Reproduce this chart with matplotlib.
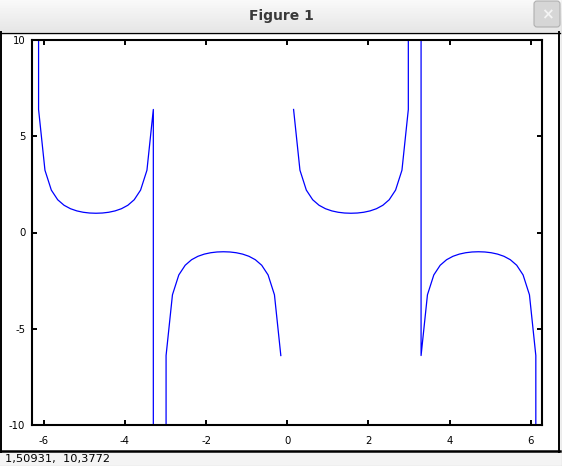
import numpy as np
import matplotlib
matplotlib.use('Agg')
from matplotlib import pyplot as plt, rcParams
from matplotlib.patches import Rectangle, FancyBboxPatch

rcParams['font.family'] = 'DejaVu Sans'

# 采样点 x (-2pi .. 2pi, 81 个点)
x_vals = [-6.2832, -6.1261, -5.9690, -5.8119, -5.6549, -5.4978, -5.3407, -5.1836, -5.0265, -4.8695,
          -4.7124, -4.5553, -4.3982, -4.2412, -4.0841, -3.9270, -3.7699, -3.6128, -3.4558, -3.2987,
          -3.1416, -2.9845, -2.8274, -2.6704, -2.5133, -2.3562, -2.1991, -2.0420, -1.8850, -1.7279,
          -1.5708, -1.4137, -1.2566, -1.0996, -0.9425, -0.7854, -0.6283, -0.4712, -0.3142, -0.1571,
          0.0,
          0.1571, 0.3142, 0.4712, 0.6283, 0.7854, 0.9425, 1.0996, 1.2566, 1.4137, 1.5708,
          1.7279, 1.8850, 2.0420, 2.1991, 2.3562, 2.5133, 2.6704, 2.8274, 2.9845, 3.1416,
          3.2987, 3.4558, 3.6128, 3.7699, 3.9270, 4.0841, 4.2412, 4.3982, 4.5553, 4.7124,
          4.8695, 5.0265, 5.1836, 5.3407, 5.4978, 5.6549, 5.8119, 5.9690, 6.1261, 6.2832]

# 对应的 y 值 (在 0 处为空，在 +-pi, +-2pi 处为极大值)
y_vals = [4.08e15,
          6.392, 3.236, 2.203, 1.701, 1.414, 1.236, 1.122, 1.051, 1.012, 1.000,
          1.012, 1.051, 1.122, 1.236, 1.414, 1.701, 2.203, 3.236, 6.392,
          -8.17e15,
          -6.392, -3.236, -2.203, -1.701, -1.414, -1.236, -1.122, -1.051, -1.012, -1.000,
          -1.012, -1.051, -1.122, -1.236, -1.414, -1.701, -2.203, -3.236, -6.392,
          np.nan,
          6.392, 3.236, 2.203, 1.701, 1.414, 1.236, 1.122, 1.051, 1.012, 1.000,
          1.012, 1.051, 1.122, 1.236, 1.414, 1.701, 2.203, 3.236, 6.392,
          8.17e15,
          -6.392, -3.236, -2.203, -1.701, -1.414, -1.236, -1.122, -1.051, -1.012, -1.000,
          -1.012, -1.051, -1.122, -1.236, -1.414, -1.701, -2.203, -3.236, -6.392,
          -4.08e15]

x_ticks = [-6, -4, -2, 0, 2, 4, 6]
y_ticks = [-10, -5, 0, 5, 10]
window_title = 'Figure 1'
status_text = '1,50931,  10,3772'

W, H = 562, 466
fig = plt.figure(figsize=(W / 100, H / 100), dpi=100)
fig.patch.set_facecolor('white')

# 窗口外框（标题栏、状态栏）
bg = fig.add_axes([0, 0, 1, 1], zorder=-1)
bg.set_xlim(0, W)
bg.set_ylim(H, 0)
bg.axis('off')
grad = np.linspace(0.975, 0.90, 32).reshape(-1, 1)
bg.imshow(grad, cmap='gray', vmin=0, vmax=1, extent=(0, W, 32, 0), aspect='auto')
bg.add_patch(FancyBboxPatch((534, 1), 26, 26, boxstyle='round,pad=0,rounding_size=3',
                            facecolor='#d6d6d6', edgecolor='#b0b0b0', lw=0.8))
bg.text(547, 15, '×', ha='center', va='center', fontsize=11, color='#f4f4f4', fontweight='bold')
bg.text(W / 2, 16, window_title, ha='center', va='center', fontsize=10, color='#3a3a3a',
        fontweight='semibold')
bg.add_patch(Rectangle((0, 452), W, H - 452, facecolor='#f4f4f4', edgecolor='none'))
bg.add_patch(Rectangle((559, 32), 3, 420, facecolor='#f0f0f0', edgecolor='none'))
bg.plot([0, 560], [32.5, 32.5], color='black', lw=1.0)
bg.plot([1, 1], [32, 452], color='black', lw=1.4)
bg.plot([559, 559], [32, 452], color='black', lw=1.4)
bg.plot([0, 560], [451, 451], color='black', lw=1.8)
bg.plot([561.5, 561.5], [0, H], color='#a0a0a0', lw=0.8)
bg.plot([0, W], [H - 0.5, H - 0.5], color='#a0a0a0', lw=0.8)
bg.text(5, 459, status_text, ha='left', va='center', fontsize=8.2, color='black')

# 绘图区
ax = fig.add_axes([32.2 / W, (H - 425) / H, 510 / W, 385 / H])
ax.plot(x_vals, y_vals, color='blue', linewidth=0.9)
ax.set_xlim(-6.2832, 6.2832)
ax.set_ylim(-10, 10)
ax.set_xticks(x_ticks)
ax.set_yticks(y_ticks)
ax.set_xticklabels([str(t) for t in x_ticks], fontsize=7.3)
ax.set_yticklabels([str(t) for t in y_ticks], fontsize=7.3)
ax.tick_params(direction='in', top=True, right=True, length=3.6, width=1.4)
ax.tick_params(axis='x', pad=8)
ax.tick_params(axis='y', pad=5)
for s in ax.spines.values():
    s.set_linewidth(1.5)

plt.savefig('out.png', dpi=100)
